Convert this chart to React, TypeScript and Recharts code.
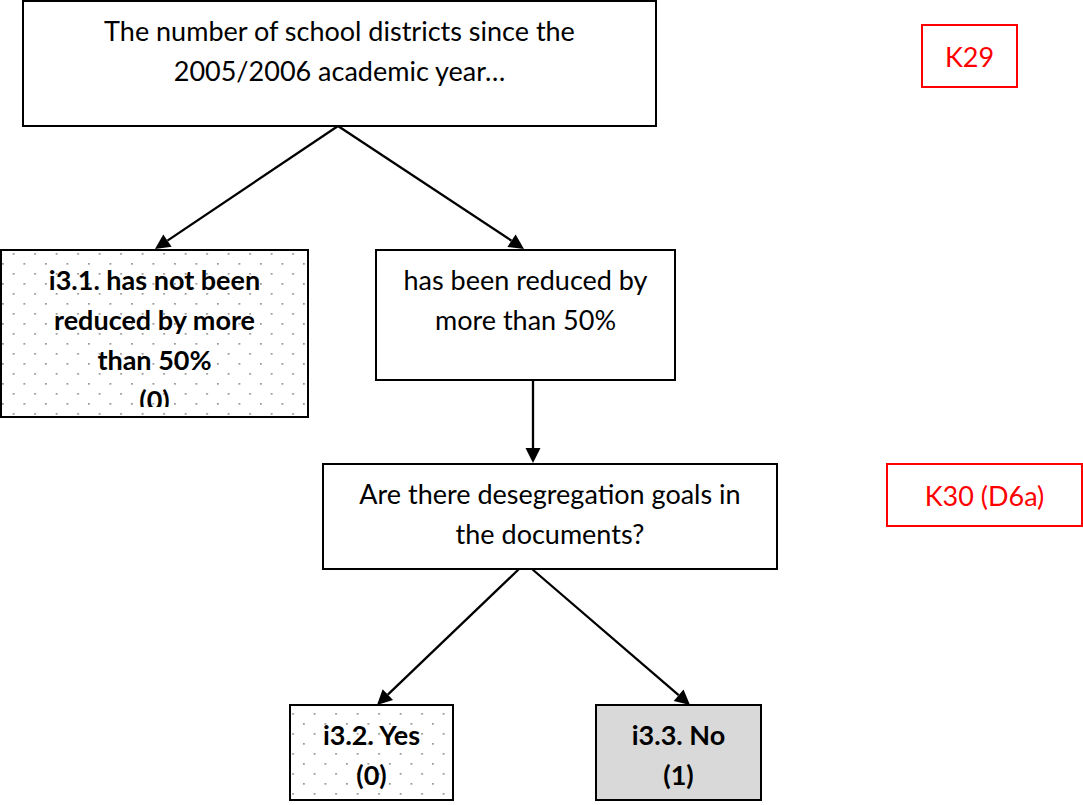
import React from 'react';
import { ComposedChart, XAxis, YAxis, ReferenceArea, ReferenceLine } from 'recharts';

const W = 1083;
const H = 805;

// flowchart nodes, in page units (x to the right, y downwards)
const nodeText = [
  ['The number of school districts since the', '2005/2006 academic year…'],
  ['i3.1. has not been', 'reduced by more', 'than 50%', '(0)'],
  ['has been reduced by', 'more than 50%'],
  ['Are there desegregation goals in', 'the documents?'],
  ['i3.2. Yes', '(0)'],
  ['i3.3. No', '(1)'],
  ['K29'],
  ['K30 (D6a)'],
];
const nodeLeft = [23, 1, 376, 323, 290, 596, 922, 887];
const nodeRight = [656, 308, 675, 777, 453, 761, 1017, 1082];
const nodeTop = [1, 250, 250, 464, 705, 705, 25, 464];
const nodeBottom = [126, 417, 380, 569, 800, 800, 87, 526];
const nodeKind = ['step', 'leaf', 'step', 'step', 'leaf', 'result', 'code', 'code'];

// arrows, from -> to
const arrowFrom = [[338, 126], [338, 126], [533, 380], [519, 569], [532, 569]];
const arrowTo = [[155, 249], [524, 249], [533, 463], [377, 705], [690, 705]];

const FONT = 'Lato, "Open Sans", sans-serif';

const kindStyle: Record<string, { fill: string; stroke: string; color: string; bold: boolean; centered: boolean }> = {
  step: { fill: '#ffffff', stroke: '#000000', color: '#000000', bold: false, centered: false },
  leaf: { fill: 'url(#dots)', stroke: '#000000', color: '#000000', bold: true, centered: false },
  result: { fill: '#d9d9d9', stroke: '#000000', color: '#000000', bold: true, centered: false },
  code: { fill: '#ffffff', stroke: '#ff0000', color: '#ff0000', bold: false, centered: true },
};

const nodeLabel = (i: number) => (props: any) => {
  const { x, y, width, height } = props.viewBox;
  const s = kindStyle[nodeKind[i]];
  const lines = nodeText[i];
  const cx = x + width / 2;
  const clipId = `node-clip-${i}`;
  return (
    <g>
      <defs>
        <clipPath id={clipId}>
          <rect x={x} y={y} width={width} height={Math.max(0, height - 10)} />
        </clipPath>
      </defs>
      <g clipPath={`url(#${clipId})`}>
        {lines.map((t, k) => (
          <text
            key={k}
            x={cx}
            y={s.centered ? y + height / 2 : y + 40 + k * 40}
            textAnchor="middle"
            dominantBaseline={s.centered ? 'central' : 'alphabetic'}
            fill={s.color}
            fontFamily={FONT}
            fontSize={27}
            fontWeight={s.bold ? 700 : 400}
          >
            {t}
          </text>
        ))}
      </g>
    </g>
  );
};

const Arrow = (p: any) => {
  const { x1, y1, x2, y2 } = p;
  const a = Math.atan2(y2 - y1, x2 - x1);
  const len = 15;
  const half = 7.5;
  const bx = x2 - len * Math.cos(a);
  const by = y2 - len * Math.sin(a);
  const pts = [
    `${x2},${y2}`,
    `${bx - half * Math.sin(a)},${by + half * Math.cos(a)}`,
    `${bx + half * Math.sin(a)},${by - half * Math.cos(a)}`,
  ].join(' ');
  return (
    <g>
      <line x1={x1} y1={y1} x2={bx} y2={by} stroke="#000" strokeWidth={2.3} />
      <polygon points={pts} fill="#000" />
    </g>
  );
};

export default function App() {
  return (
    <div style={{ position: 'absolute', left: 0, top: 0, background: '#fff' }}>
      <ComposedChart width={W} height={H} margin={{ top: 0, right: 0, bottom: 0, left: 0 }}>
        <defs>
          <pattern id="dots" width={21.5} height={20} patternUnits="userSpaceOnUse">
            <rect width={21.5} height={20} fill="#ffffff" />
            <rect x={2} y={3} width={1.7} height={1.7} fill="#909090" />
            <rect x={12.75} y={13} width={1.7} height={1.7} fill="#909090" />
          </pattern>
        </defs>
        <XAxis type="number" dataKey="x" domain={[0, W]} hide allowDataOverflow />
        <YAxis type="number" dataKey="y" domain={[0, H]} reversed hide allowDataOverflow />
        {nodeText.map((_, i) => {
          const s = kindStyle[nodeKind[i]];
          return (
            <ReferenceArea
              key={`node-${i}`}
              x1={nodeLeft[i]}
              x2={nodeRight[i]}
              y1={nodeTop[i]}
              y2={nodeBottom[i]}
              fill={s.fill}
              fillOpacity={1}
              stroke={s.stroke}
              strokeWidth={2}
              ifOverflow="visible"
              label={nodeLabel(i)}
            />
          );
        })}
        {arrowFrom.map((f, i) => (
          <ReferenceLine
            key={`arrow-${i}`}
            segment={[{ x: f[0], y: f[1] }, { x: arrowTo[i][0], y: arrowTo[i][1] }]}
            ifOverflow="visible"
            shape={Arrow}
          />
        ))}
      </ComposedChart>
    </div>
  );
}
